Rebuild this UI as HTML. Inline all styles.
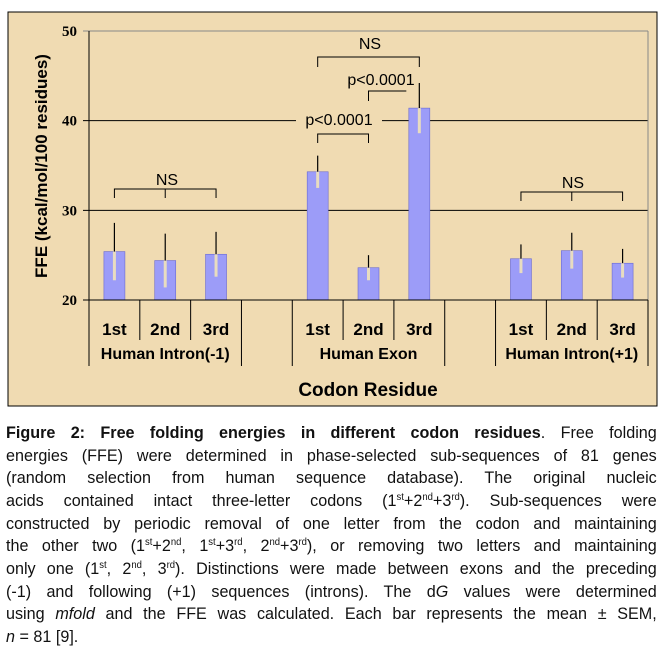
<!DOCTYPE html>
<html><head><meta charset="utf-8"><style>
html,body{margin:0;padding:0;background:#fff;}
body{width:663px;height:647px;position:relative;overflow:hidden;font-family:"Liberation Sans",Arial,sans-serif;}
#cap{position:absolute;left:6px;top:422px;width:685px;font-size:17px;line-height:22.65px;color:#111;transform:scaleX(0.95);transform-origin:0 0;}
#cap div{text-align:justify;text-align-last:justify;white-space:nowrap;}
#cap div.last{text-align-last:left;}
sup{font-size:10px;line-height:0;vertical-align:6px;}
</style></head><body>
<svg id="chart" width="663" height="410" style="position:absolute;left:0;top:0" font-family="Liberation Sans, Arial, sans-serif">
<rect x="8" y="12" width="649" height="394" fill="#f0dbb2" stroke="#000" stroke-width="1"/>
<g id="grid"></g><g id="bars"></g><g id="axes"></g><g id="ann"></g>
</svg>
<div id="cap">
<div><b>Figure 2: Free folding energies in different codon residues</b>. Free folding</div>
<div>energies (FFE) were determined in phase-selected sub-sequences of 81 genes</div>
<div>(random selection from human sequence database). The original nucleic</div>
<div>acids contained intact three-letter codons (1<sup>st</sup>+2<sup>nd</sup>+3<sup>rd</sup>). Sub-sequences were</div>
<div>constructed by periodic removal of one letter from the codon and maintaining</div>
<div>the other two (1<sup>st</sup>+2<sup>nd</sup>, 1<sup>st</sup>+3<sup>rd</sup>, 2<sup>nd</sup>+3<sup>rd</sup>), or removing two letters and maintaining</div>
<div>only one (1<sup>st</sup>, 2<sup>nd</sup>, 3<sup>rd</sup>). Distinctions were made between exons and the preceding</div>
<div>(-1) and following (+1) sequences (introns). The d<i>G</i> values were determined</div>
<div>using <i>mfold</i> and the FFE was calculated. Each bar represents the mean ± SEM,</div>
<div class="last"><i>n</i> = 81 [9].</div>
</div>
<script>
const categories = ["1st","2nd","3rd","","1st","2nd","3rd","","1st","2nd","3rd"];
const groups = ["Human Intron(-1)","Human Exon","Human Intron(+1)"];
const values = [25.4,24.4,25.1,null,34.3,23.6,41.4,null,24.6,25.5,24.1];
const errors = [3.2,3.0,2.5,null,1.8,1.4,2.8,null,1.6,2.0,1.6];
const yTicks = [20,30,40,50];
const NS="http://www.w3.org/2000/svg";
const X0=89,X1=648,Y0=300,Y1=31,YMIN=20,YMAX=50;
const bw=(X1-X0)/categories.length;
function y(v){return Y0-(v-YMIN)/(YMAX-YMIN)*(Y0-Y1);}
function xc(i){return X0+(i+0.5)*bw;}
function mk(p,t,a,txt){const e=document.createElementNS(NS,t);for(const k in a)e.setAttribute(k,a[k]);if(txt!==undefined)e.textContent=txt;p.appendChild(e);return e;}
const G=document.getElementById('grid'),B=document.getElementById('bars'),A=document.getElementById('axes'),N=document.getElementById('ann');
yTicks.forEach(t=>{
  const l=mk(G,'line',{x1:X0-6,x2:X1,y1:y(t),y2:y(t),stroke:t===50?'#888':'#000','stroke-width':1});
  
  
  const tx=mk(A,'text',{x:X0-12,y:y(t)+5,'text-anchor':'end','font-family':'Liberation Serif, serif','font-weight':'bold','font-size':15},t);
  
  
});
mk(A,'line',{x1:X1,x2:X1,y1:Y1,y2:Y0,stroke:'#888'});
const ya=mk(A,'line',{x1:X0,x2:X0,y1:Y1,y2:Y0,stroke:'#000'});


values.forEach((v,i)=>{
  if(v===null)return;
  const c=xc(i),w=21;
  const r=mk(B,'rect',{x:c-w/2,y:y(v),width:w,height:Y0-y(v),fill:'#9c9cf8',stroke:'#6a6ad0','stroke-width':0.6});
  
  
  const e1=mk(B,'line',{x1:c,x2:c,y1:y(v),y2:y(v+errors[i]),stroke:'#000','stroke-width':1.2});
  
  
  const e2=mk(B,'line',{x1:c,x2:c,y1:y(v),y2:y(v-errors[i]),stroke:'#e8dcc0','stroke-width':3});
  
  
});
for(let i=0;i<=categories.length;i++){
  const inner=(i%4===1||i%4===2);
  const x=X0+i*bw;
  mk(A,'line',{x1:x,x2:x,y1:Y0,y2:inner?340:366,stroke:'#000'});
}
const xa=mk(A,'line',{x1:X0,x2:X1,y1:Y0,y2:Y0,stroke:'#000'});


categories.forEach((c,i)=>{
  if(!c)return;
  const t=mk(A,'text',{x:xc(i),y:335,'text-anchor':'middle','font-weight':'bold','font-size':17},c);
  
  
});
groups.forEach((g,k)=>{
  const t=mk(A,'text',{x:xc(k*4+1),y:359,'text-anchor':'middle','font-weight':'bold','font-size':16},g);
  
  
});
const xt=mk(A,'text',{x:368,y:396,'text-anchor':'middle','font-weight':'bold','font-size':19},'Codon Residue');


const yt=mk(A,'text',{x:0,y:0,'text-anchor':'middle','font-weight':'bold','font-size':17,transform:'translate(47,166) rotate(-90)'},'FFE (kcal/mol/100 residues)');


function bracket(a,b,yy,down,mid,label,lx,ly,bg){
  const g=mk(N,'g',{});
  
  
  mk(g,'polyline',{points:`${xc(a)},${yy+down} ${xc(a)},${yy} ${xc(b)-(bg==='r'?13:0)},${yy}`+(bg==='r'?'':` ${xc(b)},${yy+down}`),fill:'none',stroke:'#000'});
  if(mid)mk(g,'line',{x1:xc(a+1),x2:xc(a+1),y1:yy,y2:yy+down,stroke:'#000'});
  if(bg==='w')mk(g,'rect',{x:lx-43,y:ly-15,width:86,height:20,fill:'#f0dbb2'});
  mk(g,'text',{x:lx,y:ly,'text-anchor':'middle','font-size':16},label);
}
bracket(0,2,189,9,true,'NS',167,185);
bracket(4,6,57,10,false,'NS',370,49);
bracket(5,6,91,10,false,'p<0.0001',381,85,'r');
bracket(4,5,134,9,false,'p<0.0001',339,125,'w');
bracket(8,10,192,9,true,'NS',573,188);
</script>
</body></html>
